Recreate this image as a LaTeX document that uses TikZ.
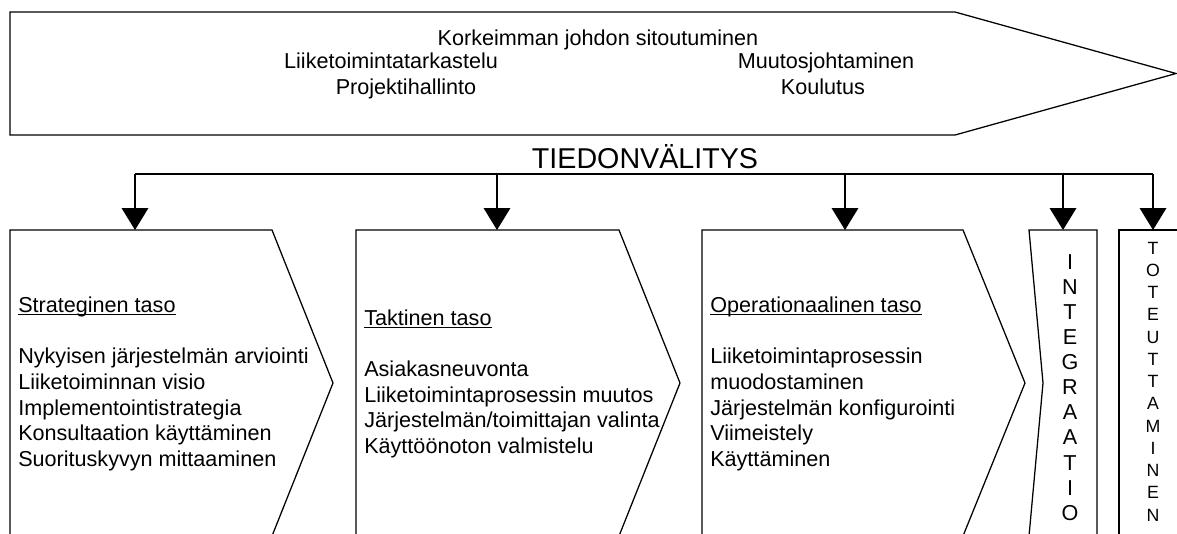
\documentclass[tikz,border=0pt]{standalone}
\usepackage{fontspec}
\setmainfont{Liberation Sans}
\usetikzlibrary{arrows.meta,positioning}
\newcommand{\headul}[1]{\underline{\smash{#1}}\vphantom{#1}}

\begin{document}
\begin{tikzpicture}[x=0.75pt,y=-0.75pt,
  outline/.style={draw=black,line width=0.95pt,line join=miter},
  arrow/.style={-{Triangle[width=20pt,length=16.5pt]},line width=0.95pt,draw=black},
  txt/.style={font=\fontsize{16.2}{19.2}\selectfont,inner sep=0pt},
  list/.style={txt,align=left,anchor=west},
  vert/.style={align=center,inner sep=0pt}
]
\fill[white] (0,0) rectangle (1177,533);
\useasboundingbox (0,0) rectangle (1177,533);
% top arrow
\draw[outline] (10,12) -- (955,12) -- (1176,73.5) -- (955,135) -- (10,135) -- cycle;
\node[txt,anchor=base] (commit) at (598,45) {Korkeimman johdon sitoutuminen};
\node[txt,anchor=base] (review) at (391,68) {Liiketoimintatarkastelu};
\node[txt,anchor=base] (project) at (406,94) {Projektihallinto};
\node[txt,anchor=base] (change) at (826,68) {Muutosjohtaminen};
\node[txt,anchor=base] (training) at (823,94) {Koulutus};
\node[txt,font=\fontsize{21.5}{25}\selectfont,anchor=base] (info) at (645,168) {TIEDONVÄLITYS};
% levels
\draw[outline] (10,230) -- (272,230) -- (333,383) -- (272,536) -- (10,536) -- cycle;
\draw[outline] (356,230) -- (619,230) -- (680,383) -- (619,536) -- (356,536) -- cycle;
\draw[outline] (702,230) -- (963,230) -- (1025,383) -- (963,536) -- (702,536) -- cycle;
\draw[outline] (1029,230) -- (1097,230) -- (1097,536) -- (1029,536) -- (1043,383) -- cycle;
\draw[outline] (1119,536) -- (1119,230) -- (1190,230);
\node[list] (strat) at (18,384) {\headul{Strateginen taso}\\ \mbox{}\\Nykyisen järjestelmän arviointi\\Liiketoiminnan visio\\Implementointistrategia\\Konsultaation käyttäminen\\Suorituskyvyn mittaaminen};
\node[list] (tact) at (364,384) {\headul{Taktinen taso}\\ \mbox{}\\Asiakasneuvonta\\Liiketoimintaprosessin muutos\\Järjestelmän/toimittajan valinta\\Käyttöönoton valmistelu};
\node[list] (oper) at (710,384) {\headul{Operationaalinen taso}\\ \mbox{}\\Liiketoimintaprosessin\\muodostaminen\\Järjestelmän konfigurointi\\Viimeistely\\Käyttäminen};
\node[vert,font=\fontsize{16.2}{18.8}\selectfont] (integ) at (1070,387.5) {I\\N\\T\\E\\G\\R\\A\\A\\T\\I\\O};
\node[vert,font=\fontsize{13.3}{16.7}\selectfont] (impl) at (1153,381.5) {T\\O\\T\\E\\U\\T\\T\\A\\M\\I\\N\\E\\N};
% distribution
\coordinate (bus1) at (135,174);
\coordinate (bus2) at (497,174);
\coordinate (bus3) at (845,174);
\coordinate (bus4) at (1063,174);
\coordinate (bus5) at (1153,174);
\coordinate (top1) at (135,230);
\coordinate (top2) at (497,230);
\coordinate (top3) at (845,230);
\coordinate (top4) at (1063,230);
\coordinate (top5) at (1153,230);
\draw[outline] (bus1) -- (bus5);
\foreach \n in {1,...,5} \draw[arrow] (bus\n) -- (top\n);
\end{tikzpicture}
\end{document}
